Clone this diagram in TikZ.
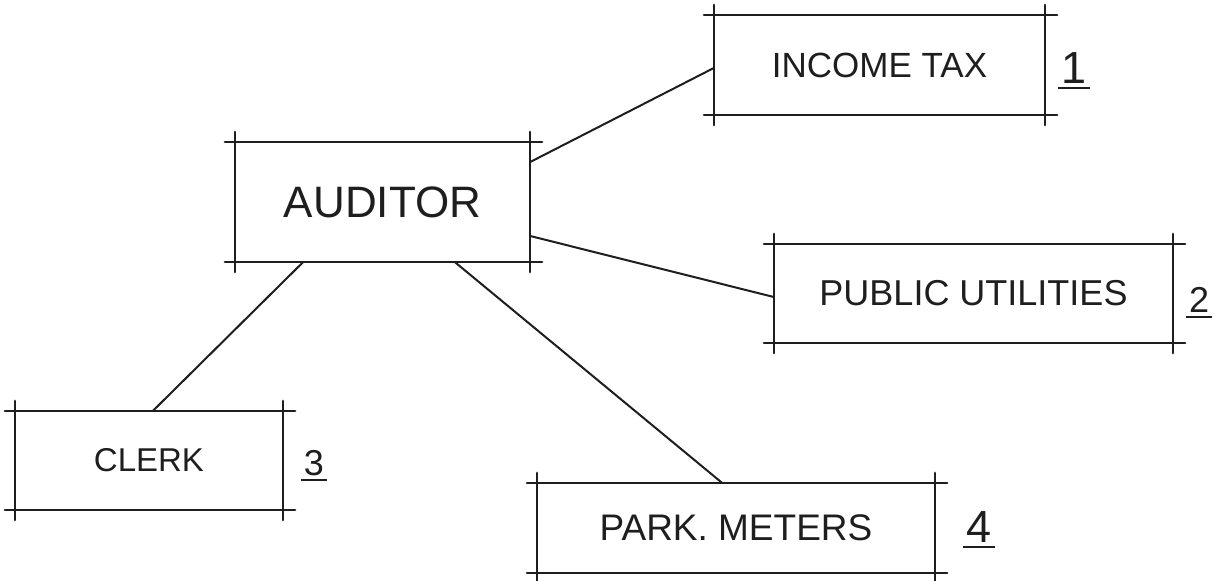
\documentclass[tikz,border=0pt]{standalone}
\usepackage{fontspec}
\setmainfont{Liberation Sans}
\usetikzlibrary{positioning,calc}
\definecolor{ink}{HTML}{1E1E1E}
\newcommand{\ulnum}[1]{\setbox0\hbox{#1}\leavevmode
  \rlap{\hspace{-3pt}\rule[-6pt]{\dimexpr\wd0+6pt\relax}{2pt}}\box0}
\tikzset{
  unitbox/.style={rectangle, inner sep=0pt, align=center, text=ink,
    font=\fontsize{35}{40}\selectfont},
  bigbox/.style={unitbox, font=\fontsize{44}{48}\selectfont},
  sketch/.style={line width=2.2pt, line cap=round, draw=ink},
  link/.style={line width=2pt, draw=ink},
  numlabel/.style={inner sep=0pt, anchor=base, text=ink, font=\fontsize{36}{40}\selectfont},
  bignum/.style={numlabel, font=\fontsize{45}{50}\selectfont}
}
\begin{document}
\begin{tikzpicture}[x=1pt,y=-1pt]
        \useasboundingbox (0,0) rectangle (1227,581);
        \node[bigbox, minimum width=295pt, minimum height=120pt] (auditor) at (382.5,202) {AUDITOR};
        \node[unitbox, minimum width=331pt, minimum height=100pt] (income) at (879.5,65) {INCOME TAX};
        \node[unitbox, minimum width=399pt, minimum height=99pt, font=\fontsize{36}{40}\selectfont] (utilities) at (973.5,293.5) {PUBLIC UTILITIES};
        \node[unitbox, minimum width=268pt, minimum height=99pt, font=\fontsize{33}{38}\selectfont] (clerk) at (149,460.5) {CLERK};
        \node[unitbox, minimum width=398pt, minimum height=90pt, font=\fontsize{37}{42}\selectfont] (meters) at (736,528) {PARK. METERS};
        % numbers beside the boxes
        \node[bignum] (n1) at (1074,83) {\ulnum{1}};
        \node[numlabel] (n2) at (1199,312) {\ulnum{2}};
        \node[numlabel] (n3) at (314,475) {\ulnum{3}};
        \node[bignum] (n4) at (979,542) {\ulnum{4}};
        % hand-drawn frames, lines run past the corners
        \foreach \n in {auditor,income,utilities,clerk,meters} {
          \draw[sketch] ([xshift=-10pt]\n.north west) -- ([xshift=12pt]\n.north east);
          \draw[sketch] ([xshift=-10pt]\n.south west) -- ([xshift=12pt]\n.south east);
          \draw[sketch] ([yshift=10pt]\n.north west) -- ([yshift=-10pt]\n.south west);
          \draw[sketch] ([yshift=10pt]\n.north east) -- ([yshift=-10pt]\n.south east);
        }
        \draw[link] ([yshift=40pt]auditor.east) -- ([yshift=-3pt]income.west);
        \draw[link] ([yshift=-34pt]auditor.east) -- ([yshift=-3.5pt]utilities.west);
        \draw[link] ([xshift=-79.5pt]auditor.south) -- ([xshift=4pt]clerk.north);
        \draw[link] ([xshift=72.5pt]auditor.south) -- ([xshift=-14pt]meters.north);
      \end{tikzpicture}
\end{document}
